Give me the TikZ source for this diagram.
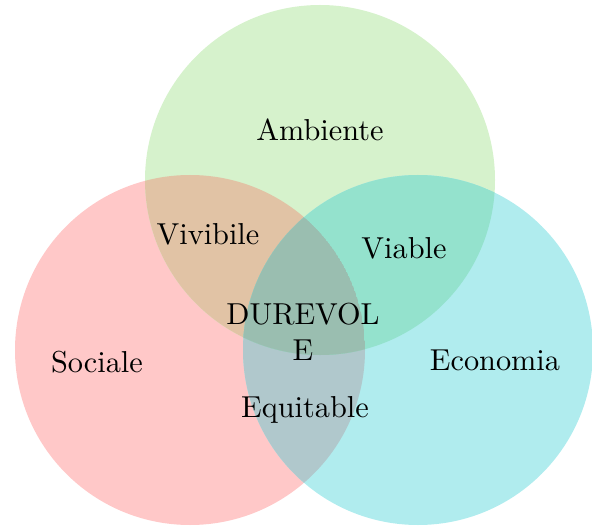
\documentclass[tikz,border=0pt]{standalone}
\definecolor{cR}{RGB}{255,200,200}
\definecolor{cG}{RGB}{214,242,204}
\definecolor{cC}{RGB}{176,236,238}
\definecolor{cRG}{RGB}{225,195,165}
\definecolor{cGC}{RGB}{148,226,205}
\definecolor{cRC}{RGB}{176,200,204}
\definecolor{cRGC}{RGB}{154,190,176}
\tikzset{lbl/.style={font=\normalsize, inner sep=0pt}}
\begin{document}
\begin{tikzpicture}[x=0.33pt,y=-0.33pt]
\useasboundingbox (0,0) rectangle (592,526);
\def\rad{175}
\coordinate (R) at (190,350);
\coordinate (G) at (320,180);
\coordinate (C) at (418,350);
\fill[cR] (R) circle (\rad);
\fill[cG] (G) circle (\rad);
\fill[cC] (C) circle (\rad);
\begin{scope}
\clip (R) circle (\rad);
\fill[cRG] (G) circle (\rad);
\fill[cRC] (C) circle (\rad);
\clip (G) circle (\rad);
\fill[cRGC] (C) circle (\rad);
\end{scope}
\begin{scope}
\clip (G) circle (\rad);
\clip (C) circle (\rad);
\fill[cGC] (C) circle (\rad);
\clip (R) circle (\rad);
\fill[cRGC] (R) circle (\rad);
\end{scope}
\node[lbl] (amb) at (320,130) {Ambiente};
\node[lbl] (viv) at (208,234) {Vivibile};
\node[lbl] (via) at (404,248) {Viable};
\node[lbl, align=center] (dur) at (303,332) {DUREVOL\\E};
\node[lbl] (soc) at (97,362) {Sociale};
\node[lbl] (eco) at (495,360) {Economia};
\node[lbl] (equ) at (305,410) {Equitable};
\end{tikzpicture}
\end{document}
